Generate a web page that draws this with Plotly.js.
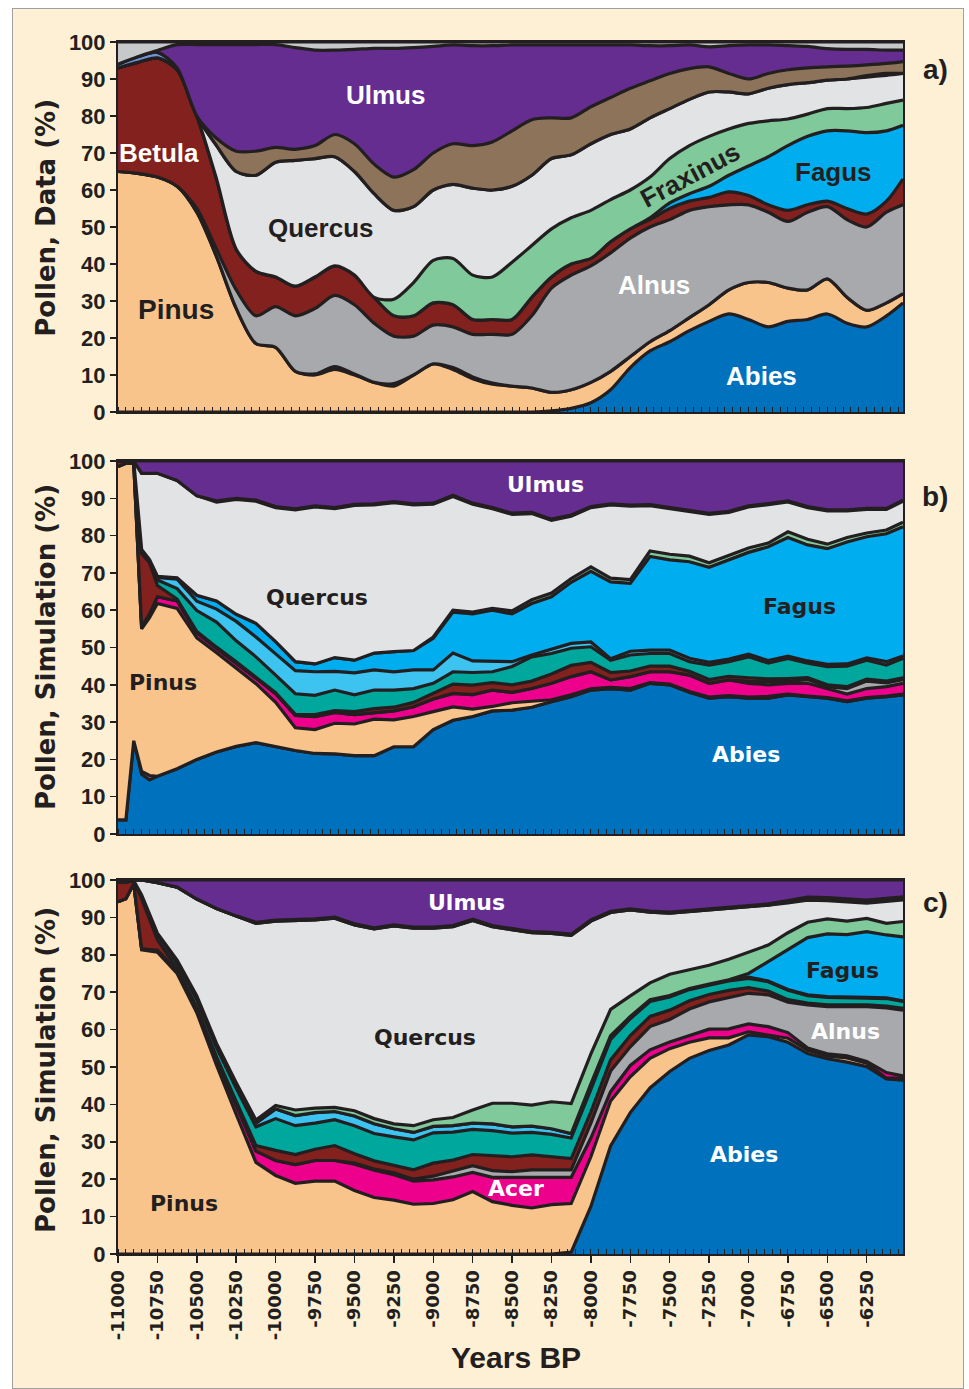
<!DOCTYPE html>
<html><head><meta charset="utf-8">
<script src="https://cdn.plot.ly/plotly-3.0.1.min.js"></script>
<style>
html,body{margin:0;padding:0;background:#ffffff;}
#frame{position:absolute;left:12px;top:8px;width:950px;height:1379px;background:#fef0d4;border:1px solid #a0a0a0;}
#chart{position:absolute;left:0;top:0;width:969px;height:1389px;}
</style></head>
<body><div id="frame"></div><div id="chart"></div>
<script>
// ---------- Panel a) Pollen, Data (%) ----------
const yearsA = [-11000,-10875,-10750,-10625,-10500,-10375,-10250,-10125,-10000,-9875,-9750,-9625,-9500,-9375,-9250,-9125,-9000,-8875,-8750,-8625,-8500,-8375,-8250,-8125,-8000,-7875,-7750,-7625,-7500,-7375,-7250,-7125,-7000,-6875,-6750,-6625,-6500,-6375,-6250,-6125,-6020];
const abiesA    = [0,0,0,0,0,0,0,0,0,0,0,0,0,0,0,0,0,0,0,0,0,0,0.3,1,2.5,6,12,16.5,19,22,24.5,26.5,25,23,24.5,25,26.5,24,23,26,29.5];
const pinusA    = [65,64.5,63.5,61,54,42,28,18.5,17.5,11,10,11.5,10,8,7,10,13,11.5,9,7.5,7,6.5,5,5,5.5,5,3,2.5,3,3.5,4.5,6.5,10,12,9,8,9.5,7,4.5,3.5,2.5];
const acerA     = [0,0,0,0,0,0,0,0,0,0,0.3,0.8,0.3,0,0.7,0,0,0.5,0.5,0.3,0,0,0,0,0,0,0,0,0,0,0,0,0,0,0,0,0,0,0,0,0];
const alnusA    = [0,0,0,0,1,2,5,7.5,11,15,17.7,19.2,18.7,16,12.8,10.5,10.5,11,11.5,13.2,14,19.5,28.2,31,31.5,32,32,31,30,29,26.5,23,21,19,18,21,19.5,21,22.5,24.5,24];
const betulaA   = [28,30,32.2,31.5,25,19,11,12,8,8,8.5,8,8,7,5.5,5.5,6,6,4,4,4,5,3,3,2,3,2.5,2,3,2.5,2.5,3.5,2.5,2,3,2,1.5,3,3.5,3,7];
const fagusA    = [0,0,0,0,0,0,0,0,0,0,0,0,0,0,0,0,0,0,0,0,0,0,0,0,0,0,0,0.5,1.5,2,3,4.5,8,13,17.5,18.5,19,21,22,19,14.5];
const fraxinusA = [0,0,0,0,0,0,0,0,0,0,0,0,0,0,4.5,9,11.5,12.5,12,11.5,15.5,14,13,12.5,13,11.4,10.5,11,12,13,13.5,12.5,11.5,9.7,7.2,6,6,6,6.8,7.4,6.8];
const quercusA  = [0,0,0,0,0,9,21,26,31,34,32,29.5,28,28,24,20.5,19,20,23.5,23.5,20.5,19,19,17,18,17.6,16.5,16,13.5,12.5,12,10,8,8.8,9.3,8.5,7.7,8,8.2,7.6,7.2];
const piceaA    = [1,1.5,1.5,0.5,0,0,0,0,0,0,0,0,0,0,0,0,0,0,0,0,0,0,0,0,0,0,0,0,0,0,0,0,0,0,0,0,0,0,0.4,0.5,0];
const corylusA  = [0,0,0,0,0,2,5.5,6.5,4,3,3.5,6,7.5,8,9,10,10,11,11.5,13,15,15,11,10,10,10,11,10,9.5,8.3,6.8,5,4,4,4,4,3.6,3.5,2.9,2.7,3.2];
const ulmusA    = [0,0,0.5,6.3,19.3,25.3,28.8,28.8,27.8,27.5,25.8,22.8,25.5,31.3,34.8,33,28.8,26.7,27,26,23.2,20.2,19.7,19.7,16.7,14.2,11.7,9.5,7.5,6.4,5.4,7.5,9.2,7.7,6.5,5.8,4.9,4.5,4.2,3.6,3.1];
const otherA    = [6,4,2.3,0.7,0.7,0.7,0.7,0.7,0.7,1.5,2.2,2.2,2,1.7,1.7,1.5,1.2,0.8,1,1,0.8,0.8,0.8,0.8,0.8,0.8,0.8,1,1,0.8,1.3,1,0.8,0.8,1,1.2,1.8,2,2,2.2,2.2];

// ---------- Panel b) Pollen, Simulation (%) ----------
const yearsB = [-11000,-10950,-10900,-10850,-10800,-10750,-10625,-10500,-10375,-10250,-10125,-10000,-9875,-9750,-9625,-9500,-9375,-9250,-9125,-9000,-8875,-8750,-8625,-8500,-8375,-8250,-8125,-8000,-7875,-7750,-7625,-7500,-7375,-7250,-7125,-7000,-6875,-6750,-6625,-6500,-6375,-6250,-6125,-6020];
const abiesB    = [3.8,3.8,25,16,14.5,15.5,17.5,20,22,23.5,24.5,23.4,22.4,21.6,21.5,21,21,23.4,23.4,28,30.5,31.5,33,33.2,34,35.5,36.8,38.6,39,38.6,40.4,40,38,36.4,36.8,36.4,36.4,37.3,36.8,36.4,35.5,36.4,36.8,37.3];
const taxusB    = [0,0,0,0.8,1.2,0,0,0,0,0,0,0,0,0,0,0,0,0,0,0,0,0,0,0,0,0,0,0,0,0,0,0,0,0,0,0,0,0,0,0,0,0,0,0];
const pinusB    = [94.7,95.6,74.4,38.2,42.3,46.3,43,32.6,26.6,21,15.8,11.9,6.1,6.4,8.2,8.5,9.8,7.2,8.1,4.8,3.6,2,1.2,2,1.5,0.5,0.5,0.3,0.3,0.4,0.2,0.2,0.2,0.3,0.3,0.3,0.5,0.2,0.2,0.2,0.2,0.2,0.2,0.2];
const acerB     = [0,0,0,0.5,1,1.8,2,1.4,1.2,1.4,1.5,2.3,3.3,3.5,2.9,2.5,1.8,2.4,2.6,3.4,3.6,3.9,4.4,2.8,3.5,4.4,4.9,4.6,2,3.2,2.9,3.3,4.4,3.7,4.2,3.7,3.1,2.9,3.4,2.4,1.8,2.4,2.5,2.9];
const alnusB    = [0,0,0,0,0,0,0,0,0,0,0,0,0,0,0,0,0,0,0,0,0,0,0,0,0,0,0,0,0,0,0,0,0,0,0,0.5,0.8,0.5,1,0.5,1.5,2,1,1];
const betulaB   = [1.5,0.6,0.6,19.7,13.7,3,0.5,0.3,0.3,0.3,0.3,0.3,0.3,0.5,0.5,0.8,1,1,1.2,1.5,2.5,2.5,2,2,2,2.5,3,2.5,2,1.5,1.5,1.5,1,1,1,1,0.8,0.8,0.5,0.5,0.5,0.5,0.5,0.5];
const carpinusB = [0,0,0,1.1,0.6,1.5,2.8,5.6,6.7,5.6,5.4,4.7,5.5,5.2,5.5,4.5,5,4.6,3.7,2.7,3.3,3.4,2.9,4.9,6.5,5.5,4.6,4.2,3.3,4.3,3.4,3.4,2.6,3.9,3.9,5.6,4.2,5.4,3.9,4.9,5.5,5.1,4.3,5.2];
const tiliaB    = [0,0,0,0,0.3,0.7,2.5,2.5,3.5,5.2,5.3,5.7,6.2,6.3,5,5.9,5.4,4.9,5,3.6,5,3.1,2.7,1.3,0.5,1.1,1.3,1.3,0.4,1,0.9,0.9,0.9,0.7,0.7,0.7,0.7,0.6,0.6,0.6,0.6,0.6,0.9,0.6];
const fagusB    = [0,0,0,0,0,0.3,0.4,1.6,2.2,1.9,3.7,3.3,2.4,2.1,3.7,3.4,4.5,5.4,5.2,8.5,11,12.6,13.8,12.8,13.8,14.1,16.4,18.9,20.6,18.2,25.1,24.2,25.9,25.5,26.6,27.3,30.5,31.8,31.1,31,32.7,32.5,34.3,34.7];
const fraxinusB = [0,0,0,0,0,0,0,0,0,0,0,0,0,0,0,0,0,0,0,0.3,0.5,0.5,0.5,0.8,1,1,1,1.2,1,1,1.5,1.5,1.5,1.2,1.2,1.2,1,1.5,1.5,1.2,1.2,1,1,1.2];
const quercusB  = [0,0,0,20.4,23.1,27.6,26.1,26.7,26.5,30.8,32.7,35.9,40.7,42.1,39.9,41.5,39.7,39.9,39,35.6,30.5,28.9,26.7,25.9,23.1,19.5,16.7,15.9,19.6,19.7,12.1,12.2,12.1,13,11.5,11,10.3,8,8.5,8.9,7.1,6.3,5.5,5.6];
const corylusB  = [0,0,0,0,0,0,0,0,0.3,0.3,0.3,0.3,0.3,0.3,0.3,0.3,0.3,0.3,0.3,0.3,0.3,0.3,0.3,0.3,0.3,0.3,0.3,0.3,0.3,0.3,0.3,0.3,0.3,0.3,0.3,0.3,0.3,0.3,0.3,0.3,0.3,0.3,0.3,0.3];
const ulmusB    = [0,0,0,3.3,3.3,3.3,5.2,9.3,10.7,10,10.5,12.2,12.8,12,12.5,11.6,11.5,10.9,11.5,11.3,9.2,11.3,12.5,14,13.8,15.6,14.5,12.2,11.5,11.8,11.7,12.5,13.1,14,13.5,12,11.4,10.7,12.2,13.1,13.1,12.7,12.7,10.5];

// ---------- Panel c) Pollen, Simulation (%) ----------
const yearsC = [-11000,-10950,-10900,-10850,-10750,-10625,-10500,-10375,-10250,-10125,-10000,-9875,-9750,-9625,-9500,-9375,-9250,-9125,-9000,-8875,-8750,-8625,-8500,-8375,-8250,-8125,-8000,-7875,-7750,-7625,-7500,-7375,-7250,-7125,-7000,-6875,-6750,-6625,-6500,-6375,-6250,-6125,-6020];
const abiesC    = [0,0,0,0,0,0,0,0,0,0,0,0,0,0,0,0,0,0,0,0,0,0,0,0,0,0.5,12.7,28.9,37.8,44.4,48.8,52.3,54.4,55.9,58.6,58.1,56.6,53.6,52.2,51.3,50.1,46.8,46.5];
const pinusC    = [94.2,95,99,81.3,80.7,75,64.5,50.5,37.3,24.5,21,18.9,19.5,19.5,17,15.1,14.4,13.3,13.5,14.5,16.7,14,13,12.3,13.2,13,13.3,12,9.6,7.9,6.1,4.3,3.4,1.9,0.8,0.5,1.1,0.9,0.7,1.1,0.9,0.2,0.5];
const acerC     = [0,0,0,0.3,0.5,0.8,1,1.5,2.5,3,4,5,5.5,5.5,7,7.3,6.8,6.2,6.3,6.1,5.1,6.5,7.5,8.2,7.5,7,5,2.5,3,2.3,1.8,1.9,2.3,2.4,2.1,2.2,1.5,0.6,0.6,0.6,0.5,1.5,0.6];
const alnusC    = [0,0,0,0,0,0,0,0,0,0,0,0,0,0,0.3,0.3,0.5,0.5,1,1.5,1.8,1.8,1.5,2,1.8,2,4,5.5,5,6.2,6,7,7.3,8.3,8.2,8.5,8.1,11.5,12.6,13.1,14.6,17.3,17.6];
const betulaC   = [5.3,4.5,0.8,13.4,2.8,0.5,0.5,0.7,1,1.5,2.7,2.7,3,4,2.5,2.2,2,2.5,3.5,3,3,4,4,4,3.5,3,3,3,3,2.7,2.5,2.2,2,2,1.5,1,0.7,0.5,0.5,0.5,0.5,0.5,0.5];
const carpinusC = [0,0,0,1,1.5,1.5,2,2.5,3.5,5,8.5,7.7,7,6.9,7.5,7.3,7.6,8,8.1,7.5,6.7,6.7,6.3,6,6,5.5,6,5.5,4.5,4,3.5,3,2.5,2.5,2.5,2.5,2.5,2,2,2,1.8,2,1.8];
const tiliaC    = [0,0,0,0,0,0.3,0.5,0.5,0.8,1,2.6,2.7,2.8,2.2,2.6,2.6,2.2,2,1.7,1.7,1.7,1.8,1.7,1.7,1.5,1.2,1.5,1,0.6,0.5,0.4,0.3,0.3,0.3,0.3,0.2,0.2,0.2,0.2,0.2,0.2,0.2,0.2];
const fagusC    = [0,0,0,0,0,0,0,0,0,0,0,0,0,0,0,0,0,0,0,0,0,0,0,0,0,0,0,0,0,0,0,0,0,0,1,5.2,10.9,15.3,16.8,16.6,17.6,16.8,17.1];
const fraxinusC = [0,0,0,0,0.3,0.5,0.5,0.6,0.7,0.8,0.9,1.5,1.2,1.1,1.4,1.4,1.3,1.8,1.8,2.2,3.5,5.5,6.3,5.6,7.2,8,8,7,5.5,4.5,5.7,5.1,5,5.5,5.8,4.4,4.3,4.1,4,3.6,3.5,3.1,4.1];
const quercusC  = [0.5,0.5,0.2,4,13.5,19.5,25.9,36.1,44.6,52.6,49.3,50.7,50.3,50.6,49.7,50.7,52.9,52.8,51.2,51,50.7,47.2,46.4,46.1,45,45,35.5,25.9,23,18.9,16.3,15.4,14.8,13.6,11.9,10.7,8,5.9,4.9,5.2,4.1,5.9,5.8];
const piceaC    = [0,0,0,0,0,0,0,0,0,0,0,0,0,0,0,0,0,0,0,0,0,0,0,0,0,0,0,0,0,0,0,0,0,0,0,0,0.3,0.5,0.5,0.5,0.5,0.5,0.5];
const corylusC  = [0,0,0,0,0,0,0,0,0,0.3,0.3,0.3,0.3,0.3,0.3,0.3,0.3,0.3,0.3,0.3,0.3,0.3,0.3,0.3,0.3,0.3,0.3,0.3,0.3,0.3,0.3,0.3,0.3,0.3,0.3,0.3,0.3,0.3,0.3,0.3,0.3,0.3,0.3];
const ulmusC    = [0,0,0,0,0.7,1.9,5.1,7.6,9.6,11.3,10.7,10.5,10.4,9.9,11.7,12.8,12,12.6,12.6,12.2,10.5,12.2,13,13.8,14,14.5,10.7,8.4,7.7,8.3,8.6,8.2,7.7,7.3,7,6.4,5.5,4.6,4.7,5,5.4,4.9,4.5];

// ---------- Axis ticks ----------
const tickYears = [-11000,-10750,-10500,-10250,-10000,-9750,-9500,-9250,-9000,-8750,-8500,-8250,-8000,-7750,-7500,-7250,-7000,-6750,-6500,-6250];

// ---------- Styles ----------
const fills = {Abies:'#0071bc', Taxus:'#8e5a9e', Pinus:'#f9c48b', Acer:'#ec008c', Alnus:'#a7a9ac',
  Betula:'#82211d', Carpinus:'#00a79d', Tilia:'#3cc3f0', Fagus:'#00aeef', Fraxinus:'#80c99b',
  Quercus:'#e2e3e5', Picea:'#6f95d8', Corylus:'#8c735a', Ulmus:'#662d91', Other:'#c7c8ca'};
const INK = '#231f20';

function stack(xs, list, ax, group, shape) {
  return list.map(([name, ys]) => ({
    type: 'scatter', mode: 'lines', x: xs, y: ys, name: name, stackgroup: group,
    xaxis: 'x' + ax, yaxis: 'y' + ax,
    line: {color: INK, width: 3.2, shape: shape, smoothing: 0.8},
    fillcolor: fills[name], hoverinfo: 'skip', showlegend: false
  }));
}

const traces = [].concat(
  stack(yearsA, [['Abies',abiesA],['Pinus',pinusA],['Acer',acerA],['Alnus',alnusA],['Betula',betulaA],
    ['Fagus',fagusA],['Fraxinus',fraxinusA],['Quercus',quercusA],['Picea',piceaA],['Corylus',corylusA],
    ['Ulmus',ulmusA],['Other',otherA]], '', 'a', 'spline'),
  stack(yearsB, [['Abies',abiesB],['Taxus',taxusB],['Pinus',pinusB],['Acer',acerB],['Alnus',alnusB],['Betula',betulaB],
    ['Carpinus',carpinusB],['Tilia',tiliaB],['Fagus',fagusB],['Fraxinus',fraxinusB],['Quercus',quercusB],
    ['Corylus',corylusB],['Ulmus',ulmusB]], '2', 'b', 'linear'),
  stack(yearsC, [['Abies',abiesC],['Pinus',pinusC],['Acer',acerC],['Alnus',alnusC],['Betula',betulaC],
    ['Carpinus',carpinusC],['Tilia',tiliaC],['Fagus',fagusC],['Fraxinus',fraxinusC],['Quercus',quercusC],
    ['Picea',piceaC],['Corylus',corylusC],['Ulmus',ulmusC]], '3', 'c', 'linear')
);

const NARROW = 'Liberation Sans Narrow, Liberation Sans, Arial, sans-serif';
function yax(domain, anchor) {
  return {domain: domain, anchor: anchor, range: [0, 100], tickmode: 'linear', tick0: 0, dtick: 10,
    ticks: 'outside', ticklen: 6, tickwidth: 1.5, tickcolor: INK,
    showline: true, linecolor: INK, linewidth: 2, mirror: true, showgrid: false, zeroline: false,
    tickfont: {family: NARROW, size: 22, color: INK, weight: 700}, fixedrange: true};
}
function xax(anchor, labels) {
  return {anchor: anchor, range: [-11000, -6020], tickmode: 'array', tickvals: tickYears,
    ticktext: tickYears.map(String), showticklabels: labels, tickangle: -90,
    ticks: 'outside', ticklen: labels ? 7 : 0, tickwidth: 1.5, tickcolor: INK,
    tickfont: {family: 'DejaVu Sans, sans-serif', size: 18, color: INK, weight: 700},
    minor: {tickmode: 'linear', tick0: -11000, dtick: 50, ticks: 'inside', ticklen: 5, tickwidth: 1, tickcolor: INK},
    showline: true, linecolor: INK, linewidth: 2, mirror: true, showgrid: false, zeroline: false, fixedrange: true};
}

function lab(text, x, y, ax, color, font, size, angle) {
  return {text: text, x: x, y: y, xref: 'x' + ax, yref: 'y' + ax, showarrow: false,
    xanchor: 'center', yanchor: 'middle', textangle: angle || 0,
    font: {family: font, size: size, color: color, weight: 700}};
}
const FA = 'Liberation Sans, Arial, sans-serif';
const FB = 'DejaVu Sans, sans-serif';
const W = '#ffffff';

const annotations = [
  lab('Ulmus', -9300, 85.7, '', W, FA, 26),
  lab('Betula', -10740, 70, '', W, FA, 26),
  lab('Quercus', -9712, 49.7, '', INK, FA, 26),
  lab('Pinus', -10632, 27.8, '', INK, FA, 28),
  lab('Fraxinus', -7371, 64, '', INK, FA, 26, -28),
  lab('Fagus', -6463, 64.9, '', INK, FA, 26),
  lab('Alnus', -7599, 34.3, '', W, FA, 26),
  lab('Abies', -6920, 9.7, '', W, FA, 26),

  lab('Ulmus', -8291, 93.8, '2', W, FB, 22),
  lab('Quercus', -9737, 63.5, '2', INK, FB, 22),
  lab('Pinus', -10714, 40.5, '2', INK, FB, 22),
  lab('Fagus', -6679, 60.9, '2', INK, FB, 22),
  lab('Abies', -7015, 21.2, '2', W, FB, 22),

  lab('Ulmus', -8786, 93.9, '3', W, FB, 22),
  lab('Quercus', -9052, 57.8, '3', INK, FB, 22),
  lab('Pinus', -10581, 13.6, '3', INK, FB, 22),
  lab('Acer', -8475, 17.4, '3', W, FB, 22),
  lab('Fagus', -6406, 75.7, '3', INK, FB, 22),
  lab('Alnus', -6387, 59.6, '3', W, FB, 22),
  lab('Abies', -7028, 26.5, '3', W, FB, 22),

  {text: 'Pollen, Data (%)', xref: 'paper', yref: 'paper', x: -0.0917, y: 0.855, showarrow: false,
    textangle: -90, xanchor: 'center', yanchor: 'middle', font: {family: FB, size: 26, color: INK, weight: 700}},
  {text: 'Pollen, Simulation (%)', xref: 'paper', yref: 'paper', x: -0.0917, y: 0.5008, showarrow: false,
    textangle: -90, xanchor: 'center', yanchor: 'middle', font: {family: FB, size: 26, color: INK, weight: 700}},
  {text: 'Pollen, Simulation (%)', xref: 'paper', yref: 'paper', x: -0.0917, y: 0.1518, showarrow: false,
    textangle: -90, xanchor: 'center', yanchor: 'middle', font: {family: FB, size: 26, color: INK, weight: 700}},
  {text: 'Years BP', xref: 'paper', yref: 'paper', x: 0.507, y: -0.085, showarrow: false,
    xanchor: 'center', yanchor: 'middle', font: {family: NARROW, size: 30, color: INK, weight: 700}},
  {text: 'a)', xref: 'paper', yref: 'paper', x: 1.0408, y: 0.977, showarrow: false,
    xanchor: 'center', yanchor: 'middle', font: {family: FA, size: 28, color: INK, weight: 700}},
  {text: 'b)', xref: 'paper', yref: 'paper', x: 1.0408, y: 0.6254, showarrow: false,
    xanchor: 'center', yanchor: 'middle', font: {family: FA, size: 28, color: INK, weight: 700}},
  {text: 'c)', xref: 'paper', yref: 'paper', x: 1.0408, y: 0.2904, showarrow: false,
    xanchor: 'center', yanchor: 'middle', font: {family: FA, size: 28, color: INK, weight: 700}}
];

const layout = {
  width: 969, height: 1389,
  margin: {l: 118, r: 66, t: 42, b: 135},
  paper_bgcolor: 'rgba(0,0,0,0)', plot_bgcolor: '#ffffff',
  showlegend: false,
  xaxis: xax('y', false), yaxis: yax([0.6947, 1], 'x'),
  xaxis2: xax('y2', false), yaxis2: yax([0.3465, 0.6543], 'x2'),
  xaxis3: xax('y3', true), yaxis3: yax([0, 0.3086], 'x3'),
  annotations: annotations
};

Plotly.newPlot('chart', traces, layout, {staticPlot: true, displayModeBar: false});
</script>
</body></html>
